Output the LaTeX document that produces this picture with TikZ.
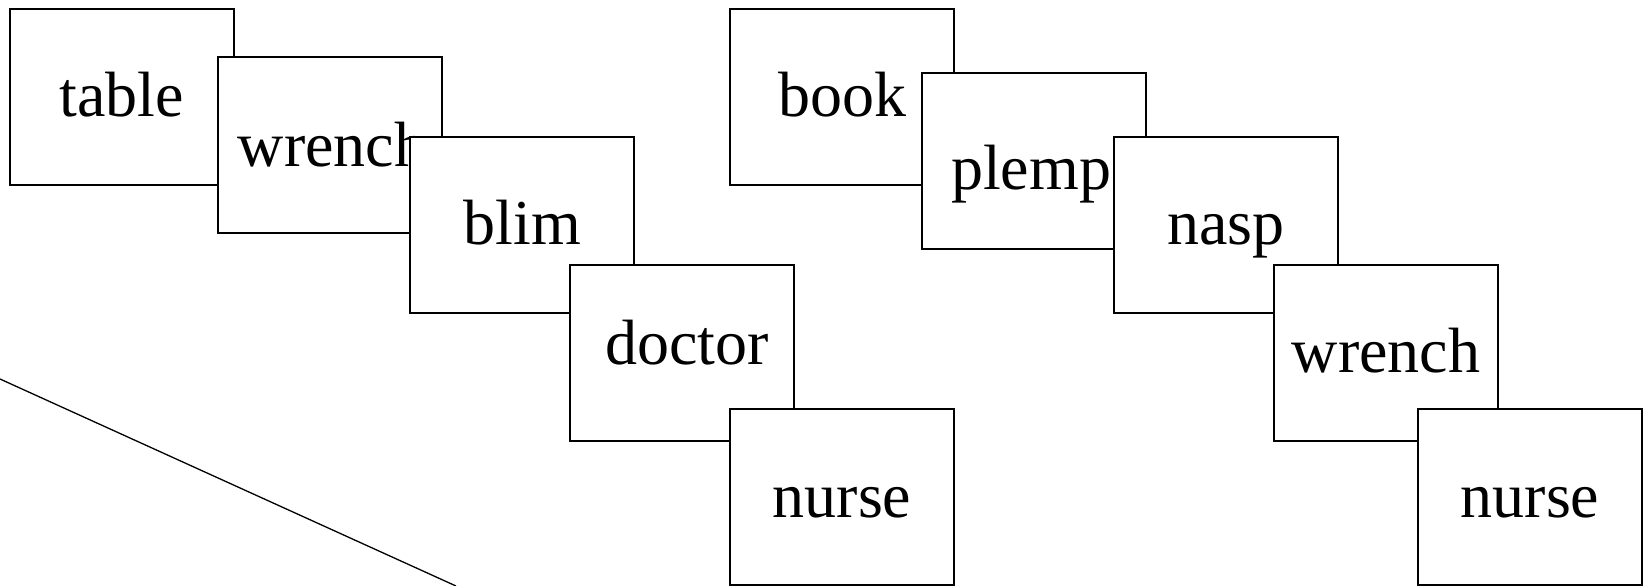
\documentclass[tikz,border=0pt]{standalone}
\usepackage{fontspec}
\setmainfont{Liberation Serif}
\tikzset{
  wordbox/.style={draw=black, fill=white, line width=1.3pt, inner sep=0pt, outer sep=0pt,
    minimum width=224pt, minimum height=176pt, anchor=north west},
  wordlbl/.style={inner sep=0pt, outer sep=0pt, anchor=base,
    font=\fontsize{64}{64}\selectfont}
}
\newcommand\wordcard[6]{%
  \node[wordbox] (#1) at (#2,#3) {};
  \node[wordlbl] (#1-t) at (#4,#5) {#6};
}
\begin{document}
\begin{tikzpicture}[x=1pt,y=-1pt]
\useasboundingbox (0,0) rectangle (1644,586);
% left sequence
\wordcard{tableL}{10}{9}{121.5}{117}{table}
\wordcard{wrenchL}{218}{57}{332}{166}{wrench}
\wordcard{blimL}{410}{137}{522.5}{244}{blim}
\wordcard{doctorL}{570}{265}{687}{364}{doctor}
\wordcard{nurseL}{730}{409}{842}{517}{nurse}
% right sequence
\wordcard{bookR}{730}{9}{842}{117}{book}
\wordcard{plempR}{922}{73}{1031}{189}{plemp}
\wordcard{naspR}{1114}{137}{1226}{244}{nasp}
\wordcard{wrenchR}{1274}{265}{1386}{372}{wrench}
\wordcard{nurseR}{1418}{409}{1530}{517}{nurse}
% diagonal line
\coordinate (lineA) at (0,379);
\coordinate (lineB) at (456,586);
\draw[line width=1.3pt] (lineA) -- (lineB);
\end{tikzpicture}
\end{document}
